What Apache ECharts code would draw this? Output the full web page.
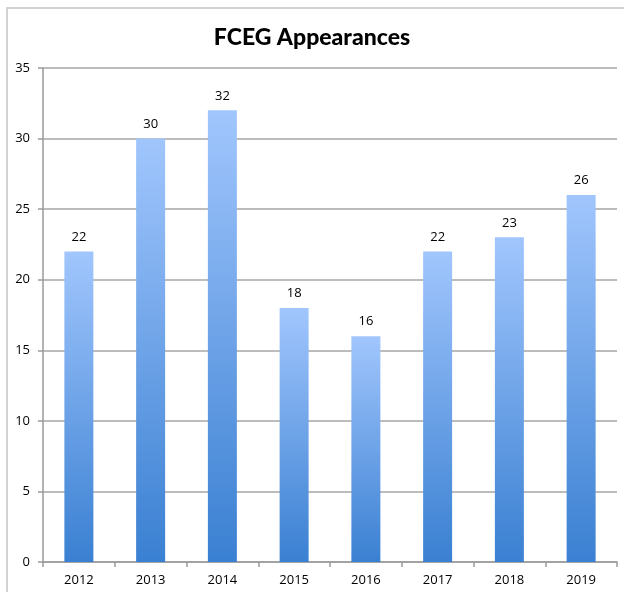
<!DOCTYPE html>
<html>
<head>
<meta charset="UTF-8" />
<title>FCEG Appearances</title>
<script src="https://cdn.jsdelivr.net/npm/echarts@6/dist/echarts.min.js"></script>
<style>
  html, body { margin: 0; padding: 0; background: #fff; }
</style>
</head>
<body>
<div id="main" style="width: 624px;height:592px;"></div>
<script type="text/javascript">
    // 年份
    var years = ['2012', '2013', '2014', '2015', '2016', '2017', '2018', '2019'];
    // 出场次数
    var appearances = [22, 30, 32, 18, 16, 22, 23, 26];
    // 纵轴刻度
    var yTicks = [0, 5, 10, 15, 20, 25, 30, 35];

    var barColor = new echarts.graphic.LinearGradient(0, 0, 0, 1, [
        { offset: 0, color: '#a1c6fd' },
        { offset: 1, color: '#3a80d2' }
    ]);

    var option = {
        animation: false,
        title: {
            text: 'FCEG Appearances',
            left: 'center',
            top: 21,
            textStyle: {
                fontFamily: 'Lato',
                fontWeight: 900,
                fontSize: 23,
                color: '#000'
            }
        },
        graphic: [{
            type: 'rect',
            shape: { x: 7, y: 8, width: 700, height: 700 },
            style: { fill: 'none', stroke: '#c4c4c4', lineWidth: 1.5 },
            silent: true
        }],
        grid: {
            left: 43,
            right: 7,
            top: 68,
            bottom: 30
        },
        xAxis: {
            type: 'category',
            data: years,
            axisLine: { lineStyle: { color: '#9a9a9a', width: 1.5 } },
            axisTick: { show: true, length: 5, lineStyle: { color: '#9a9a9a', width: 1.5 } },
            axisLabel: {
                color: '#000',
                fontFamily: 'Open Sans',
                fontSize: 13,
                margin: 12
            }
        },
        yAxis: {
            type: 'value',
            min: yTicks[0],
            max: yTicks[yTicks.length - 1],
            interval: 5,
            axisLine: { show: true, lineStyle: { color: '#9a9a9a', width: 1.5 } },
            axisTick: { show: true, length: 5, lineStyle: { color: '#9a9a9a', width: 1.5 } },
            splitLine: { lineStyle: { color: '#a6a6a6', width: 1.5 } },
            axisLabel: {
                color: '#000',
                fontFamily: 'Open Sans',
                fontSize: 13,
                margin: 13
            }
        },
        series: [{
            type: 'bar',
            data: appearances,
            barWidth: 29,
            itemStyle: { color: barColor },
            label: {
                show: true,
                position: 'top',
                distance: 8,
                color: '#000',
                fontFamily: 'Open Sans',
                fontSize: 13
            }
        }]
    };

    var myChart = echarts.init(document.getElementById('main'));
    myChart.setOption(option);
</script>
</body>
</html>
